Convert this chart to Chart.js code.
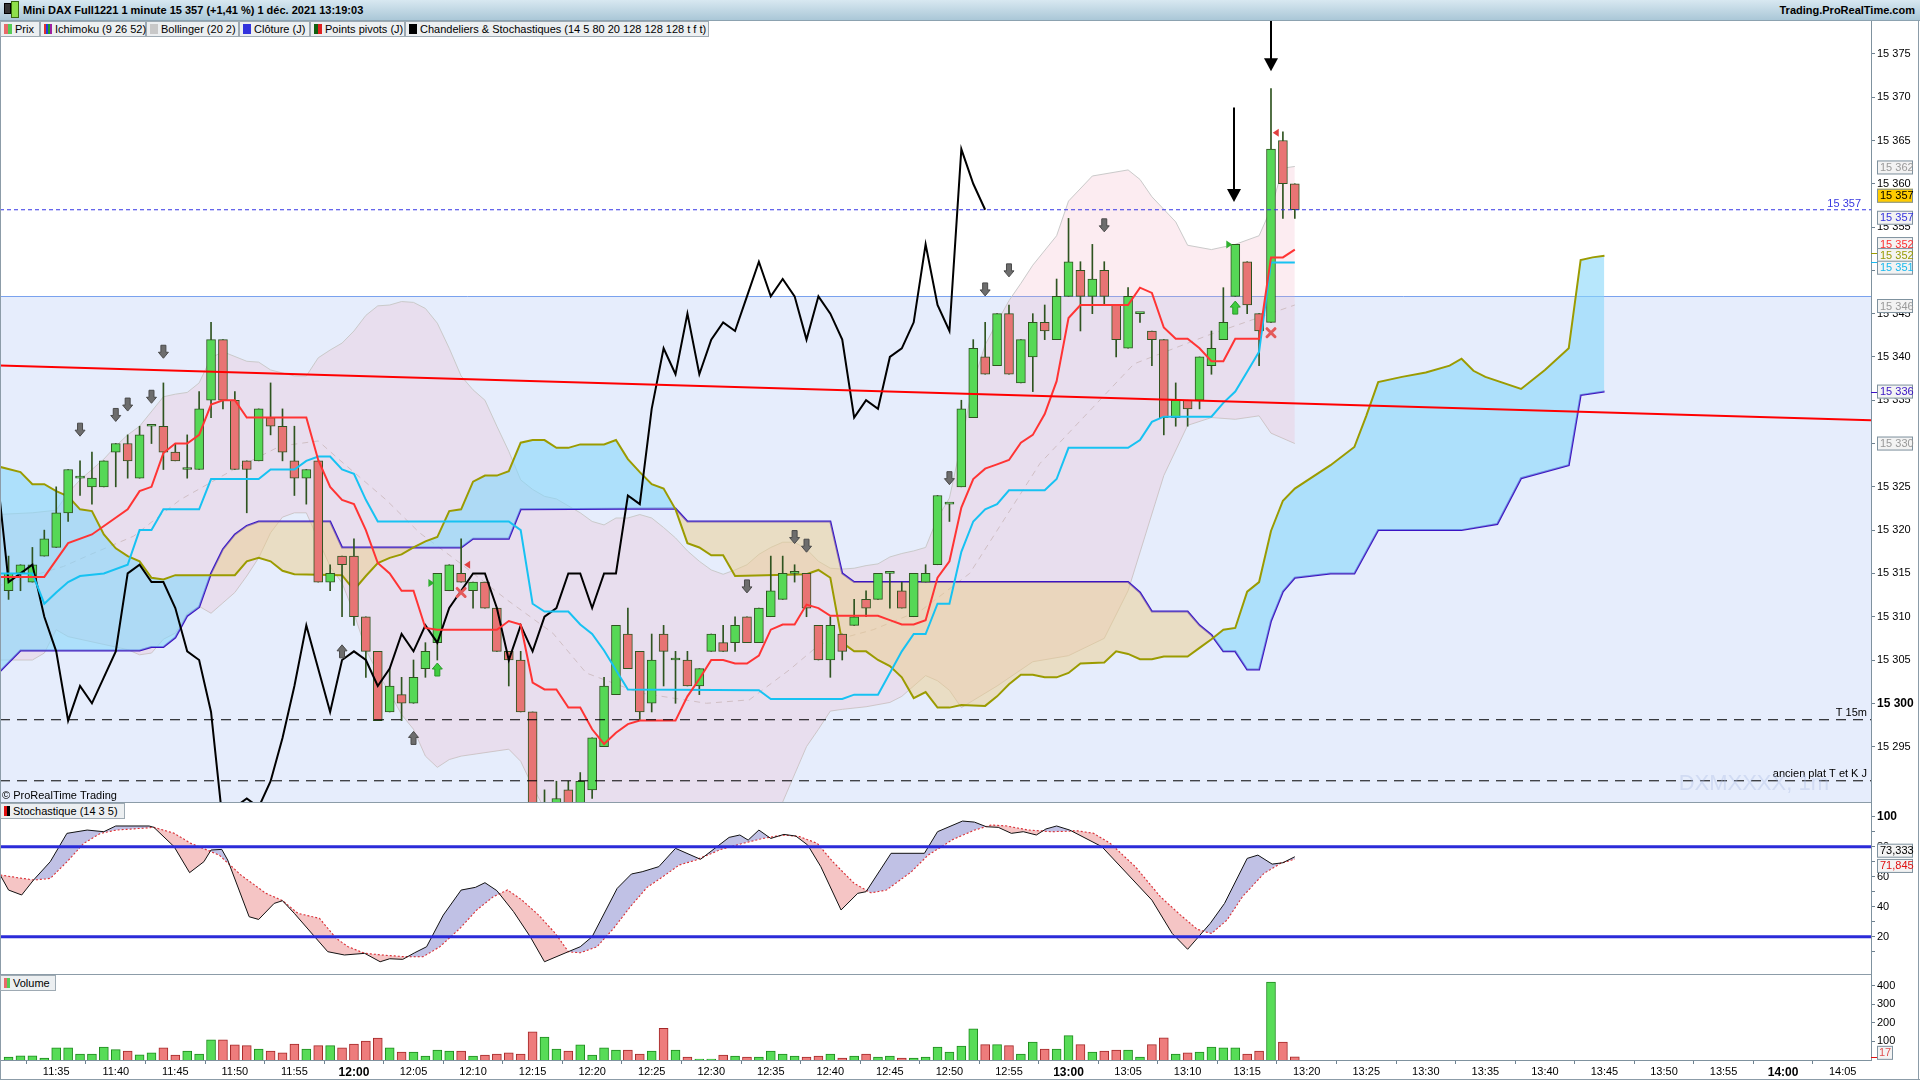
<!DOCTYPE html>
<html>
<head>
<meta charset="utf-8">
<script src="https://cdn.jsdelivr.net/npm/chart.js@4.4.1/dist/chart.umd.min.js"></script>
<style>
body{margin:0;width:1920px;height:1080px;overflow:hidden;background:#fff;position:relative;font-family:"Liberation Sans",Arial,sans-serif}
canvas{position:absolute;left:0}
#title{position:absolute;left:0;top:0;width:1920px;height:21px;background:linear-gradient(#d8e8f1,#aac7d7);border-bottom:1px solid #8ca2b0;box-sizing:border-box;font-size:11px;font-weight:bold}
#title .t{position:absolute;left:23px;top:4px}
#title .r{position:absolute;right:5px;top:4px}
.ico{position:absolute;left:4px;top:3px;width:5px;height:9px;background:#333;border:1px solid #000}
.ico2{position:absolute;left:11px;top:1px;width:6px;height:15px;background:#8fe04a;border:1px solid #3a6a10}
.lg{position:absolute;top:21px;height:16px;background:#eceff1;border:1px solid #9eaab3;box-sizing:border-box;font-size:11px;line-height:14px;padding-left:14px;white-space:nowrap;z-index:3}
.lg i{position:absolute;left:3px;top:2px;width:8px;height:10px}
.pl{position:absolute;left:0;height:16px;background:#eceff1;border:1px solid #9eaab3;box-sizing:border-box;font-size:11px;line-height:14px;padding-left:12px;white-space:nowrap;z-index:3}
.pl i{position:absolute;left:3px;top:2px;width:6px;height:10px}
.sep{position:absolute;left:0;width:1871px;height:1px;background:#8c9ca8;z-index:2}
</style>
</head>
<body>
<div id="title"><span class="ico"></span><span class="ico2"></span><span class="t">Mini DAX Full1221 1 minute 15 357 (+1,41 %) 1 déc. 2021 13:19:03</span><span class="r">Trading.ProRealTime.com</span></div>
<div class="lg" style="left:0;width:40px"><i style="background:linear-gradient(90deg,#e86a6a 50%,#55cc55 50%)"></i>Prix</div>
<div class="lg" style="left:40px;width:106px"><i style="background:linear-gradient(90deg,#e03030 25%,#2040e0 25%,#2040e0 50%,#20a020 50%,#20a020 75%,#a020a0 75%)"></i>Ichimoku (9 26 52)</div>
<div class="lg" style="left:146px;width:93px"><i style="background:#c8c8c8"></i>Bollinger (20 2)</div>
<div class="lg" style="left:239px;width:71px"><i style="background:#3333dd"></i>Clôture (J)</div>
<div class="lg" style="left:310px;width:95px"><i style="background:linear-gradient(90deg,#106010 50%,#e02020 50%)"></i>Points pivots (J)</div>
<div class="lg" style="left:405px;width:304px"><i style="background:#000"></i>Chandeliers &amp; Stochastiques (14 5 80 20 128 128 128 t f t)</div>

<canvas id="price" width="1920" height="781" style="top:21px"></canvas>
<canvas id="stoch" width="1920" height="172" style="top:802px"></canvas>
<canvas id="volume" width="1920" height="106" style="top:974px"></canvas>

<div class="sep" style="top:802px"></div>
<div class="sep" style="top:974px"></div>
<div class="pl" style="top:803px;width:125px"><i style="background:linear-gradient(90deg,#e01010 50%,#000 50%)"></i>Stochastique (14 3 5)</div>
<div class="pl" style="top:975px;width:56px"><i style="background:linear-gradient(90deg,#e86a6a 50%,#55cc55 50%)"></i>Volume</div>
<div style="position:absolute;left:0;top:21px;width:1px;height:1059px;background:#8c9ca8"></div>
<div style="position:absolute;left:1918px;top:21px;width:1px;height:1059px;background:#8c9ca8"></div>
<div style="position:absolute;left:0;top:1079px;width:1920px;height:1px;background:#8c9ca8"></div>

<script>
// first candle is 11:31, one candle per minute
const startMinute = 691;
const xMin = 690.28, xMax = 847.38;

const opens = [15313,15315,15314,15317,15318,15322,15326,15325,15325,15329,
  15330,15326,15332,15332,15329,15327,15327,15335,15342,15335,
  15328,15328,15333,15332,15328,15326,15328,15314,15317,15317,
  15310,15306,15299,15301,15300,15304,15307,15313,15315,15313,
  15314,15311,15306,15305,15299,15286,15287,15290,15288,15290,
  15295,15301,15308,15306,15300,15308,15305,15305,15302,15306,
  15307,15307,15310,15307,15310,15312,15315,15315,15309,15305,
  15308,15309,15312,15312,15315,15313,15310,15314,15316,15323,
  15325,15333,15340,15339,15345,15337,15340,15344,15342,15347,
  15350,15347,15350,15346,15341,15345,15343,15342,15333,15335,
  15335,15339,15342,15347,15351,15345,15344,15365,15360];
const highs = [15317,15316,15318,15320,15325,15327,15328,15329,15328,15330,
  15331,15332,15332,15337,15330,15331,15336,15344,15342,15336,
  15328,15334,15337,15334,15332,15327,15328,15316,15317,15319,
  15310,15306,15304,15303,15305,15307,15315,15316,15319,15314,
  15314,15311,15306,15306,15299,15290,15291,15291,15292,15296,
  15303,15309,15311,15306,15308,15309,15306,15306,15304,15308,
  15309,15310,15310,15311,15317,15317,15316,15315,15309,15310,
  15308,15312,15313,15315,15315,15314,15315,15316,15324,15323,
  15335,15342,15344,15345,15346,15342,15345,15346,15349,15356,
  15351,15353,15351,15346,15348,15345,15343,15342,15337,15335,
  15340,15343,15348,15353,15351,15345,15371,15366,15360];
const lows = [15312,15313,15314,15317,15318,15321,15324,15323,15325,15325,
  15326,15326,15330,15327,15328,15326,15327,15333,15334,15327,
  15322,15328,15331,15328,15324,15323,15314,15313,15310,15309,
  15303,15298,15299,15298,15300,15303,15305,15313,15314,15311,
  15311,15306,15302,15299,15285,15284,15285,15286,15287,15289,
  15295,15301,15304,15298,15299,15302,15300,15302,15301,15306,
  15306,15306,15307,15307,15310,15312,15314,15310,15305,15303,
  15305,15309,15310,15312,15311,15311,15310,15314,15316,15321,
  15325,15333,15338,15339,15338,15337,15336,15342,15342,15347,
  15343,15345,15346,15340,15341,15344,15339,15331,15332,15332,
  15334,15338,15342,15347,15345,15339,15344,15356,15356];
const closes = [15315,15316,15316,15319,15322,15327,15326,15326,15328,15330,
  15328,15331,15332,15329,15328,15327,15334,15342,15335,15327,
  15327,15334,15332,15329,15326,15327,15314,15315,15316,15310,
  15306,15298,15302,15300,15303,15306,15315,15316,15314,15314,
  15311,15306,15305,15299,15286,15288,15289,15288,15291,15296,
  15302,15309,15304,15299,15305,15306,15305,15302,15304,15308,
  15306,15309,15307,15311,15313,15315,15315,15311,15305,15309,
  15306,15310,15311,15315,15315,15311,15315,15315,15324,15323,
  15334,15341,15338,15345,15338,15342,15344,15343,15347,15351,
  15347,15349,15347,15342,15347,15345,15342,15333,15335,15334,
  15340,15341,15344,15353,15346,15343,15364,15360,15357];
const volumes = [16,23,23,10,65,65,32,32,70,56,
  48,28,38,65,27,48,32,108,108,81,
  77,59,48,38,86,59,77,77,65,86,
  102,118,65,43,43,21,54,48,48,21,
  27,32,38,32,151,124,59,48,81,27,
  65,54,54,32,48,170,54,16,5,5,
  27,21,16,16,48,32,21,16,21,32,
  10,21,32,16,21,10,10,16,70,43,
  75,168,83,83,77,32,97,59,59,131,
  83,43,48,54,54,16,83,120,32,38,
  43,70,65,65,32,48,420,97,17];

// Ichimoku lines, [candle index, price]
const tenkan = [[-1,15314.6],[3,15314.6],[5,15318.5],[7,15319.5],[10,15322.4],[11,15324.5],[12,15325],[13,15328.9],[14,15330],[15,15330],[16,15331],[17,15334.5],[18,15335],[19,15335],[20,15333],[25,15333],[26,15328.1],[27,15325],[28,15323.5],[29,15323],[30,15320],[31,15316.2],[32,15315],[33,15313],[34,15313],[35,15308.7],[36,15308.5],[41,15308.5],[42,15309.5],[43,15309.1],[44,15302.4],[45,15301.6],[46,15301.6],[47,15299.5],[48,15299.5],[49,15297],[50,15295.3],[51,15296.6],[52,15297.6],[53,15298],[56,15298],[57,15300.8],[58,15302.8],[59,15305],[60,15305],[61,15304.6],[62,15304.6],[63,15305.5],[64,15308.5],[65,15309.1],[66,15309.1],[67,15311.4],[68,15311],[69,15310.1],[73,15310.1],[74,15309.6],[75,15309.1],[76,15309.1],[77,15309.6],[78,15314.5],[79,15316.4],[80,15322.6],[81,15325.9],[82,15327.1],[83,15327.6],[84,15328.1],[85,15330.1],[86,15331],[87,15333.4],[88,15337.2],[89,15344.5],[90,15346],[94,15346],[95,15348],[96,15347.4],[97,15343.4],[98,15342.1],[99,15342.1],[100,15341],[101,15339.5],[102,15339.5],[103,15342.1],[105,15342.1],[106,15351.5],[107,15351.5],[108,15352.4]];
const kijun = [[-1,15315],[2,15315],[3,15311.5],[4,15312.8],[5,15314],[6,15314.7],[8,15315],[10,15316],[11,15320],[12,15320],[13,15322.4],[16,15322.4],[17,15325.9],[21,15325.9],[22,15327],[24,15327],[25,15328],[26,15328.5],[27,15328.5],[28,15327],[29,15326.5],[30,15323.5],[31,15321],[42,15321],[43,15320],[44,15311.5],[45,15310.6],[47,15310.6],[48,15309.1],[49,15308],[50,15306.1],[52,15301.6],[63,15301.5],[64,15300.5],[70,15300.5],[71,15301],[73,15301],[74,15303.5],[75,15306],[76,15308],[77,15308],[78,15311.5],[79,15311.5],[80,15317.5],[81,15321],[82,15322.4],[83,15323],[84,15324.6],[87,15324.6],[88,15325.9],[89,15329.5],[94,15329.5],[95,15330.4],[96,15332.5],[97,15333.1],[101,15333.1],[102,15334.7],[103,15336],[104,15338.3],[105,15340.6],[106,15350.9],[108,15350.9]];
const senkouA = [[-1,15327.4],[1,15326.7],[2,15325.3],[3,15325.3],[4,15324.5],[5,15323.9],[6,15322.4],[7,15322.2],[8,15319.5],[9,15317.9],[10,15317],[11,15316.4],[12,15314.5],[13,15314.3],[14,15314.8],[19,15314.8],[20,15316.4],[21,15316.8],[22,15316.4],[23,15315.3],[24,15314.9],[28,15314.8],[29,15313.1],[30,15314.7],[31,15316.2],[32,15316.8],[33,15317.2],[34,15318],[35,15318.7],[36,15319.2],[37,15322.2],[38,15322.4],[39,15325.6],[40,15326.3],[41,15326.3],[42,15326.8],[43,15330.1],[44,15330.4],[45,15330.4],[46,15329.5],[47,15329.5],[48,15329.9],[50,15329.9],[51,15330.4],[52,15328.2],[53,15326.7],[54,15325.3],[55,15324.8],[56,15322.4],[57,15318.5],[58,15318],[59,15317.1],[60,15317.1],[61,15314.7],[67,15314.9],[68,15315.4],[69,15314.5],[70,15307],[71,15306],[72,15306],[73,15305],[74,15304.3],[75,15303],[76,15300.6],[77,15301.3],[78,15299.5],[79,15299.5],[80,15299.8],[82,15299.7],[83,15300.8],[84,15302.2],[85,15303.3],[86,15303.3],[87,15303],[88,15303],[89,15303.5],[90,15304.6],[92,15304.7],[93,15306],[94,15305.7],[95,15305.1],[96,15305.1],[97,15305.4],[99,15305.4],[100,15306.4],[101,15307.4],[102,15308.5],[103,15308.7],[104,15312.9],[105,15314],[106,15319.9],[107,15323.4],[108,15324.8],[111,15327.5],[113,15329.6],[114,15333.2],[115,15337.1],[117,15337.7],[119,15338.2],[121,15339],[122,15339.8],[123,15338.4],[124,15337.7],[127,15336.3],[129,15338.5],[131,15341],[132,15351.2],[133,15351.5],[134,15351.7]];
const senkouB = [[-1,15303.3],[1,15306.1],[11,15306.1],[12,15306.5],[13,15306.5],[14,15307.6],[15,15310.1],[16,15311.1],[17,15315],[18,15317.8],[19,15319.5],[20,15320.5],[21,15321],[27,15321],[28,15318],[38,15318],[39,15319],[42,15319],[43,15322.4],[56,15322.5],[57,15321],[69,15321],[70,15315],[71,15314],[94,15314],[95,15312.8],[96,15310.6],[99,15310.6],[100,15309],[101,15307.9],[102,15306],[103,15306],[104,15303.9],[105,15303.9],[106,15309.5],[107,15312.9],[108,15314.5],[111,15315],[113,15315],[115,15320],[122,15320],[125,15320.7],[127,15326],[131,15327.5],[132,15335.6],[134,15336]];
// lagging line, candle index -1 .. 82
const chikou = [15327,15314,15315,15316,15310,15306,15298,15302,15300,15303,
  15306,15315,15316,15314,15314,15311,15306,15305,15299,15286,
  15288,15289,15288,15291,15296,15302,15309,15304,15299,15305,
  15306,15305,15302,15304,15308,15306,15309,15307,15311,15313,
  15315,15315,15311,15305,15309,15306,15310,15311,15315,15315,
  15311,15315,15315,15324,15323,15334,15341,15338,15345,15338,
  15342,15344,15343,15347,15351,15347,15349,15347,15342,15347,
  15345,15342,15333,15335,15334,15340,15341,15344,15353,15346,
  15343,15364,15360,15357];

// Bollinger (20 2)
const bollUpper = [[-1,15321.8],[2,15322],[4,15322.3],[5,15324.3],[6,15325.8],[7,15327],[8,15328.2],[9,15329.7],[10,15331],[11,15332],[13,15335.4],[14,15335.7],[15,15335.9],[16,15337],[17,15339.9],[18,15340.6],[20,15339.5],[21,15339.4],[22,15338.5],[24,15337.8],[25,15337.8],[26,15339.9],[27,15340.8],[28,15341.6],[29,15343],[30,15344.8],[31,15345.9],[32,15346],[33,15346.4],[34,15346.3],[35,15345.6],[36,15343.9],[37,15341],[38,15337.8],[39,15336.2],[40,15335],[41,15332],[42,15329.1],[43,15325.8],[44,15324.7],[45,15323.9],[46,15323.6],[47,15322.8],[48,15322],[49,15321],[50,15320.6],[51,15321.4],[52,15321.4],[53,15321.8],[54,15321.4],[55,15320.3],[56,15319.1],[57,15317.6],[58,15316.4],[59,15315.4],[60,15314.9],[61,15315.4],[62,15316],[63,15317.2],[64,15318],[65,15318.6],[66,15318.6],[67,15317.8],[68,15316.4],[69,15315.6],[70,15315.5],[71,15315.6],[72,15315.9],[73,15316.1],[74,15316.9],[75,15317.3],[76,15317.6],[77,15318],[78,15321.4],[79,15323.7],[80,15330.1],[81,15337],[82,15341.4],[83,15344],[84,15346.5],[85,15348.5],[86,15350.6],[88,15354],[89,15358],[91,15360.9],[94,15361.6],[95,15360.5],[96,15358.5],[98,15355.6],[99,15352.9],[101,15352.4],[103,15353],[105,15354],[106,15357.1],[107,15361.8],[108,15362]];
const bollLower = [[-1,15305],[2,15305],[3,15305.8],[4,15308.5],[5,15307.7],[6,15307.4],[8,15306.8],[10,15306.2],[11,15305.6],[12,15305.8],[13,15307.4],[14,15308.1],[15,15310.4],[16,15311.2],[17,15310.4],[18,15311.6],[19,15312.8],[20,15314.7],[21,15316.8],[22,15319.7],[23,15321.5],[24,15322],[25,15322],[26,15318.9],[27,15315.8],[28,15313.9],[29,15310.4],[30,15306.2],[31,15303.5],[32,15301.2],[33,15298.7],[34,15297],[35,15293.9],[36,15292.6],[37,15293.5],[38,15293.9],[40,15294.3],[42,15294.7],[43,15293.3],[44,15290.4],[45,15287.8],[47,15284],[50,15282],[53,15282],[56,15283],[60,15283],[63,15285],[65,15288.6],[67,15295],[68,15297],[69,15299.1],[70,15299.3],[72,15299.6],[74,15300.1],[75,15300.8],[77,15303.2],[78,15302.6],[79,15301.5],[80,15299.5],[83,15302],[86,15304.8],[89,15305.5],[92,15307.5],[94,15313],[97,15326.3],[99,15332.1],[101,15333],[103,15332.8],[105,15333.2],[106,15331.2],[108,15330]];
const bollMid = [[-1,15313.5],[4.6,15315.8],[6.9,15317.2],[10.5,15319.3],[14.4,15323.5],[18.9,15327],[22.8,15329.7],[26,15330.3],[27.8,15328.1],[31.7,15323.5],[34.5,15319.7],[37.9,15316.2],[41.8,15312],[45.7,15308.1],[48.5,15303.5],[53,15301.2],[58.6,15300],[62.2,15300.4],[65.6,15303.9],[68.1,15306.8],[72.6,15308.5],[76.7,15310.8],[80.7,15315],[86.6,15327.7],[94.5,15339.2],[100.7,15342.5],[108,15346]];

// levels
const pivotLevel = 15347;
const lastLevel = 15357;
const level15m = 15298.1;
const levelAncien = 15291.05;
const trendLine = [[-0.72,15339.0],[156.4,15332.7]];

// signal marks [candle index, price]
const grayDown = [[6,15331.6],[9,15333.3],[10,15334.5],[12,15335.4],[13,15340.6],[62,15313.5],[66,15319.2],[67,15318.2],[79,15326],[82,15347.8],[84,15350],[92,15355.2]];
const grayUp = [[28,15306],[34,15296]];
const greenUp = [[36,15303.9],[103,15345.7]];
const redCross = [[38,15312.8],[106,15342.8]];
const redTri = [[38.5,15316],[106.4,15365.9]];
const greenTri = [[35.5,15313.9],[102.5,15353]];
const bigArrows = [[102.9,15368.8,15357.9],[106,15378.9,15373]];

// stochastic (14 3 5)
const stochK = [[-0.7,61.1],[0,51.1],[1.1,47.8],[2.1,57.8],[3.5,70],[4.9,88.9],[6.6,91.1],[8,90],[9,93.8],[11.8,93.8],[12.2,92.9],[13.9,80],[15.2,62.7],[16.4,70],[17,77.8],[17.9,78.2],[18.4,71.1],[20.2,33.3],[21,31.5],[22.3,42.2],[23,44],[24,35.5],[25.7,20],[26.8,10],[28.2,7.8],[29.9,8.9],[31.2,3.3],[32,5.3],[33.1,4.9],[34.1,9.3],[35.1,13.3],[36.5,34.4],[38,51.1],[39.2,52.9],[40,56],[41,50.7],[42.4,36.7],[43.8,20],[45,3.3],[47,10],[48,13.3],[49,20],[51.1,52.2],[52.3,61.8],[53.2,63.3],[54.6,66.7],[56,78.9],[58.1,71.6],[60.5,86.2],[61.4,87.8],[62.1,84.4],[63,91.1],[64,85.5],[65.1,88.2],[66.1,87.1],[67.1,81.1],[68.2,66.7],[69.9,37.8],[71.3,48.9],[72,50],[74.1,75.6],[76.9,75.6],[78,90],[80.1,97.1],[81.1,96.4],[82.1,93.3],[83.1,92.9],[84.2,88.9],[85.2,90],[86.3,87.8],[87.1,91.8],[88,93.8],[89.1,91.1],[91.8,80],[96,44.4],[97.7,22.2],[99,11.6],[100.9,28.9],[102.1,42.2],[104,72.2],[104.9,74.4],[106.1,68.4],[107,69.3],[108,73.3]];
const stochD = [[-0.7,61.1],[1.1,58.9],[2.1,57.8],[3.5,58.9],[4.9,70],[6.3,82.2],[7.7,88.9],[9,91.1],[12.2,92.9],[13.9,88.9],[15.3,82.2],[17.7,74.4],[19.5,61.1],[21.6,48.9],[23,44],[24.3,35.5],[26.1,32.2],[27.5,18.9],[28.5,13.3],[29.9,8.9],[31.3,7.8],[33.1,6.7],[34.8,6.7],[36.2,13.3],[37.9,25.6],[39.3,37.8],[40.7,46.7],[41.9,51.1],[43.1,44.4],[44.5,34.4],[45.9,22.2],[47,10],[48,9.3],[49.4,13.3],[50.8,25.6],[52.2,40],[53.6,52.9],[55,60.4],[56.3,67.8],[57.7,71.1],[59.8,78.2],[61.6,82.2],[63.3,85.5],[65.1,87.8],[66.4,86.7],[67.9,82.2],[69.2,70],[71,55.5],[72.4,49.3],[73.7,51.1],[75.8,63.3],[77.2,74.4],[79.3,84.9],[81.1,91.1],[82.5,94.4],[83.8,93.8],[85.6,91.1],[87.6,90],[89.7,90.6],[91.1,88.9],[92.5,82.2],[94.6,66.7],[96.7,46.7],[98.4,34.4],[99.8,24.9],[101,22.2],[102.3,31.1],[103.6,46.7],[105.4,62.2],[106.8,68.9],[108,71.8]];
const stochLevels = [80, 20];

// axis ticks
const priceTicks = [15295,15300,15305,15310,15315,15320,15325,15330,15335,15340,15345,15350,15355,15360,15365,15370,15375];
const stochTicks = [10,20,30,40,50,60,70,80,90,100];
const stochLabelled = [20,40,60,80,100];
const volumeTicks = [100,200,300,400];
const timeTickLabels = ['11:35','11:40','11:45','11:50','11:55','12:00','12:05','12:10','12:15','12:20','12:25','12:30','12:35','12:40','12:45','12:50','12:55','13:00','13:05','13:10','13:15','13:20','13:25','13:30','13:35','13:40','13:45','13:50','13:55','14:00','14:05'];

const FONT = "'Liberation Sans', Arial, sans-serif";
Chart.defaults.font.family = FONT;
Chart.defaults.font.size = 11;
Chart.defaults.color = '#000';

const toXY = pts => pts.map(([i, v]) => ({x: startMinute + i, y: v}));
const flat = v => [{x: xMin, y: v}, {x: xMax, y: v}];
const spaced = v => String(v).replace(/\B(?=(\d{3})+(?!\d))/g, ' ');
const toMinutes = s => { const [h, m] = s.split(':').map(Number); return h * 60 + m; };
const isUp = i => closes[i] >= opens[i];

const line = (data, color, width, extra) => Object.assign({
  type: 'line', data, borderColor: color, borderWidth: width,
  pointRadius: 0, tension: 0, fill: false
}, extra || {});

const hiddenX = {
  type: 'linear', min: xMin, max: xMax, display: false, offset: false
};

function rightAxis(min, max, ticks, opts) {
  return Object.assign({
    type: 'linear', position: 'right', min, max,
    afterBuildTicks: s => { s.ticks = ticks.map(v => ({value: v})); },
    afterFit: s => { s.width = 49; s.paddingTop = 0; s.paddingBottom = 0; },
    grid: {drawOnChartArea: false, drawTicks: true, tickLength: 4, color: '#6f8290'},
    border: {color: '#7f929f'},
    ticks: {padding: 2, color: '#000', autoSkip: false, callback: v => spaced(v)}
  }, opts || {});
}

function valueBox(ctx, x, yc, text, color, bg) {
  ctx.fillStyle = bg || '#f3f3f3';
  ctx.fillRect(x, yc - 7, 36, 14);
  ctx.strokeStyle = '#7f929f';
  ctx.lineWidth = 1;
  ctx.strokeRect(x + 0.5, yc - 6.5, 35, 13);
  ctx.fillStyle = color;
  ctx.font = '11px ' + FONT;
  ctx.textAlign = 'left';
  ctx.textBaseline = 'middle';
  ctx.fillText(text, x + 3, yc + 0.5);
}

function blockArrow(ctx, cx, cy, dir, fill, stroke) {
  const h = 13, w = 10, sw = 5, hh = 6;
  const tail = cy - dir * h / 2, tip = cy + dir * h / 2, base = tip - dir * hh;
  ctx.beginPath();
  ctx.moveTo(cx - sw / 2, tail); ctx.lineTo(cx + sw / 2, tail);
  ctx.lineTo(cx + sw / 2, base); ctx.lineTo(cx + w / 2, base);
  ctx.lineTo(cx, tip); ctx.lineTo(cx - w / 2, base);
  ctx.lineTo(cx - sw / 2, base); ctx.closePath();
  ctx.fillStyle = fill; ctx.fill();
  ctx.strokeStyle = stroke; ctx.lineWidth = 1; ctx.stroke();
}

// ---------- price panel ----------
const priceBackground = {
  id: 'priceBackground',
  beforeDraw(chart) {
    const {ctx, chartArea: a, scales: {y}} = chart;
    const yp = Math.round(y.getPixelForValue(pivotLevel)) + 0.5;
    ctx.save();
    ctx.fillStyle = '#fff';
    ctx.fillRect(a.left, a.top, a.width, a.height);
    ctx.fillStyle = '#e6edfc';
    ctx.fillRect(a.left, yp, a.width, a.bottom - yp);
    ctx.strokeStyle = '#7aa2ee';
    ctx.lineWidth = 1;
    ctx.beginPath(); ctx.moveTo(a.left, yp); ctx.lineTo(a.right, yp); ctx.stroke();
    ctx.restore();
  }
};

const priceMarks = {
  id: 'priceMarks',
  afterDatasetsDraw(chart) {
    const {ctx, chartArea: a, scales: {x, y}} = chart;
    const px = i => x.getPixelForValue(startMinute + i);
    const py = v => y.getPixelForValue(v);
    ctx.save();
    ctx.beginPath(); ctx.rect(a.left, a.top, a.width, a.height); ctx.clip();
    grayDown.forEach(([i, v]) => blockArrow(ctx, px(i), py(v), 1, '#6d6d6d', '#4a4a4a'));
    grayUp.forEach(([i, v]) => blockArrow(ctx, px(i), py(v), -1, '#6d6d6d', '#4a4a4a'));
    greenUp.forEach(([i, v]) => blockArrow(ctx, px(i), py(v), -1, '#3fcc3f', '#2a9a2a'));
    redCross.forEach(([i, v]) => {
      const cx = px(i), cy = py(v);
      ctx.strokeStyle = '#e45a5a'; ctx.lineWidth = 3; ctx.lineCap = 'round';
      ctx.beginPath();
      ctx.moveTo(cx - 4, cy - 4); ctx.lineTo(cx + 4, cy + 4);
      ctx.moveTo(cx + 4, cy - 4); ctx.lineTo(cx - 4, cy + 4);
      ctx.stroke();
    });
    redTri.forEach(([i, v]) => {
      const cx = px(i), cy = py(v);
      ctx.fillStyle = '#e04040';
      ctx.beginPath(); ctx.moveTo(cx - 3, cy); ctx.lineTo(cx + 3, cy - 4); ctx.lineTo(cx + 3, cy + 4); ctx.closePath(); ctx.fill();
    });
    greenTri.forEach(([i, v]) => {
      const cx = px(i), cy = py(v);
      ctx.fillStyle = '#30b030';
      ctx.beginPath(); ctx.moveTo(cx + 3, cy); ctx.lineTo(cx - 3, cy - 4); ctx.lineTo(cx - 3, cy + 4); ctx.closePath(); ctx.fill();
    });
    bigArrows.forEach(([i, top, tipV]) => {
      const cx = Math.round(px(i)), y0 = py(top), tip = py(tipV);
      ctx.strokeStyle = '#000'; ctx.lineWidth = 2; ctx.lineCap = 'butt';
      ctx.beginPath(); ctx.moveTo(cx, y0); ctx.lineTo(cx, tip - 10); ctx.stroke();
      ctx.fillStyle = '#000';
      ctx.beginPath(); ctx.moveTo(cx - 7, tip - 13); ctx.lineTo(cx + 7, tip - 13); ctx.lineTo(cx, tip); ctx.closePath(); ctx.fill();
    });
    // level captions
    ctx.font = '11px ' + FONT;
    ctx.textBaseline = 'alphabetic';
    ctx.textAlign = 'right';
    ctx.fillStyle = '#3838e0';
    ctx.fillText(spaced(lastLevel), a.right - 10, py(lastLevel) - 3);
    ctx.fillStyle = '#000';
    ctx.fillText('T 15m', a.right - 4, py(level15m) - 4);
    ctx.fillText('ancien plat T et K J', a.right - 4, py(levelAncien) - 4);
    ctx.font = '22px ' + FONT;
    ctx.fillStyle = 'rgba(170,185,225,0.35)';
    ctx.fillText('DXMXXXX, 1m', a.right - 42, py(levelAncien) + 9);
    ctx.textAlign = 'left';
    ctx.font = '11px ' + FONT;
    ctx.fillStyle = '#000';
    ctx.fillText('\u00a9 ProRealTime Trading', a.left + 2, a.bottom - 3);
    ctx.restore();
  },
  afterDraw(chart) {
    const {ctx, chartArea: a, scales: {y}} = chart;
    const py = v => y.getPixelForValue(v);
    const bx = a.right + 6;
    ctx.save();
    [[15352, '#ff3030'], [15352, '#9b9b00'], [15351, '#19b8ee'], [15336, '#3a14c4']].forEach(([v, c]) => {
      ctx.strokeStyle = c; ctx.lineWidth = 1;
      ctx.beginPath(); ctx.moveTo(a.right, Math.round(py(v)) + 0.5); ctx.lineTo(bx, Math.round(py(v)) + 0.5); ctx.stroke();
    });
    valueBox(ctx, bx, py(15362) + 1, '15 362', '#999');
    valueBox(ctx, bx, py(15357) - 14, '15 357', '#000', '#ffcc00');
    valueBox(ctx, bx, py(15357) + 8, '15 357', '#3333dd');
    valueBox(ctx, bx, py(15352) - 9, '15 352', '#ff3030');
    valueBox(ctx, bx, py(15352) + 2, '15 352', '#9b9b00');
    valueBox(ctx, bx, py(15351) + 6, '15 351', '#19b8ee');
    valueBox(ctx, bx, py(15346) + 1, '15 346', '#999');
    valueBox(ctx, bx, py(15336), '15 336', '#3a14c4');
    valueBox(ctx, bx, py(15330), '15 330', '#999');
    ctx.restore();
  }
};

new Chart(document.getElementById('price'), {
  type: 'line',
  data: {
    datasets: [
      line(toXY(bollUpper), '#cacaca', 1, {order: 10,
        fill: {target: '+1', above: 'rgba(240,170,190,0.22)', below: 'rgba(240,170,190,0.22)'}}),
      line(toXY(bollLower), '#cacaca', 1, {order: 10}),
      line(toXY(bollMid), '#c6c6c6', 1, {order: 10, borderDash: [6, 5]}),
      line(toXY(senkouA), '#9b9b00', 2, {order: 9,
        fill: {target: '+1', above: 'rgba(135,215,250,0.6)', below: 'rgba(236,205,140,0.5)'}}),
      line(toXY(senkouB), '#3a14c4', 2, {order: 9}),
      {
        type: 'bar', order: 6, grouped: false, barThickness: 1,
        data: opens.map((o, i) => ({x: startMinute + i, y: [lows[i], highs[i]]})),
        backgroundColor: '#2f5420'
      },
      {
        type: 'bar', order: 5, grouped: false, barThickness: 9, minBarLength: 2,
        data: opens.map((o, i) => ({x: startMinute + i, y: [o, closes[i]]})),
        backgroundColor: opens.map((o, i) => isUp(i) ? '#56d856' : '#e87474'),
        borderColor: '#2f5420', borderWidth: 1, borderSkipped: false
      },
      line(toXY(tenkan), '#ff3434', 2, {order: 3}),
      line(toXY(kijun), '#17c2f2', 2, {order: 3}),
      line(chikou.map((v, k) => ({x: startMinute - 1 + k, y: v})), '#000', 2, {order: 3}),
      line(toXY(trendLine), '#ff0000', 2, {order: 1}),
      line(flat(lastLevel), '#3535e6', 1, {order: 1, borderDash: [4, 3]}),
      line(flat(level15m), '#000', 1, {order: 1, borderDash: [10, 7]}),
      line(flat(levelAncien), '#000', 1, {order: 1, borderDash: [10, 7]})
    ]
  },
  options: {
    responsive: false, animation: false, events: [],
    layout: {padding: 0},
    plugins: {legend: {display: false}, tooltip: {enabled: false}},
    scales: {
      x: hiddenX,
      y: rightAxis(15288.6, 15378.8, priceTicks, {
        ticks: {padding: 2, color: '#000', autoSkip: false, callback: v => spaced(v),
          font: c => (c.tick && c.tick.value === 15300) ? {size: 12, weight: 'bold'} : {size: 11}}
      })
    }
  },
  plugins: [priceBackground, priceMarks]
});

// ---------- stochastic panel ----------
const stochBoxes = {
  id: 'stochBoxes',
  afterDraw(chart) {
    const {ctx, chartArea: a, scales: {y}} = chart;
    ctx.save();
    valueBox(ctx, a.right + 6, y.getPixelForValue(73.333) - 6, '73,333', '#000');
    valueBox(ctx, a.right + 6, y.getPixelForValue(71.845) + 7, '71,845', '#e01010');
    ctx.restore();
  }
};

new Chart(document.getElementById('stoch'), {
  type: 'line',
  data: {
    datasets: [
      line(toXY(stochK), '#111', 1, {order: 2,
        fill: {target: 1, above: 'rgba(150,152,212,0.6)', below: 'rgba(235,140,140,0.5)'}}),
      line(toXY(stochD), '#e01818', 1.2, {order: 2, borderDash: [2, 2]}),
      line(flat(stochLevels[0]), '#2b2bd9', 3, {order: 1}),
      line(flat(stochLevels[1]), '#2b2bd9', 3, {order: 1})
    ]
  },
  options: {
    responsive: false, animation: false, events: [],
    layout: {padding: 0},
    plugins: {legend: {display: false}, tooltip: {enabled: false}},
    scales: {
      x: hiddenX,
      y: rightAxis(-4.87, 109.8, stochTicks, {
        ticks: {padding: 2, color: '#000', autoSkip: false,
          callback: v => stochLabelled.includes(v) ? String(v) : '',
          font: c => (c.tick && c.tick.value === 100) ? {size: 12, weight: 'bold'} : {size: 11}}
      })
    }
  },
  plugins: [stochBoxes]
});

// ---------- volume panel + time axis ----------
const volumeBox = {
  id: 'volumeBox',
  afterDraw(chart) {
    const {ctx, chartArea: a, scales: {y}} = chart;
    const yc = y.getPixelForValue(volumes[volumes.length - 1]);
    ctx.save();
    ctx.strokeStyle = '#e01010';
    ctx.beginPath(); ctx.moveTo(a.right, Math.round(yc) + 0.5); ctx.lineTo(a.right + 6, Math.round(yc) + 0.5); ctx.stroke();
    ctx.fillStyle = '#f3f3f3';
    ctx.fillRect(a.right + 6, yc - 11, 16, 14);
    ctx.strokeStyle = '#7f929f';
    ctx.strokeRect(a.right + 6.5, yc - 10.5, 15, 13);
    ctx.fillStyle = '#e05050';
    ctx.font = '11px ' + FONT;
    ctx.textBaseline = 'middle';
    ctx.fillText(String(volumes[volumes.length - 1]), a.right + 8, yc - 3.5);
    ctx.restore();
  }
};

new Chart(document.getElementById('volume'), {
  type: 'bar',
  data: {
    datasets: [{
      grouped: false, barThickness: 9,
      data: volumes.map((v, i) => ({x: startMinute + i, y: v})),
      backgroundColor: volumes.map((v, i) => isUp(i) ? '#57dc57' : '#ee7c7c'),
      borderColor: volumes.map((v, i) => isUp(i) ? '#1e8a1e' : '#a42828'),
      borderWidth: 1, borderSkipped: 'bottom'
    }]
  },
  options: {
    responsive: false, animation: false, events: [],
    layout: {padding: 0},
    plugins: {legend: {display: false}, tooltip: {enabled: false}},
    scales: {
      x: {
        type: 'linear', min: xMin, max: xMax, offset: false,
        afterBuildTicks: s => { s.ticks = timeTickLabels.map(t => ({value: toMinutes(t)})); },
        afterFit: s => { s.height = 20; s.paddingLeft = 0; s.paddingRight = 0; },
        grid: {drawOnChartArea: false, drawTicks: true, tickLength: 4, color: '#6f8290'},
        border: {color: '#7f929f'},
        ticks: {
          padding: 1, color: '#000', maxRotation: 0, autoSkip: false,
          callback: v => timeTickLabels.find(t => toMinutes(t) === v) || '',
          font: c => (c.tick && c.tick.value % 60 === 0) ? {size: 12, weight: 'bold'} : {size: 11}
        }
      },
      y: rightAxis(0, 463, volumeTicks)
    }
  },
  plugins: [volumeBox]
});
</script>
</body>
</html>
